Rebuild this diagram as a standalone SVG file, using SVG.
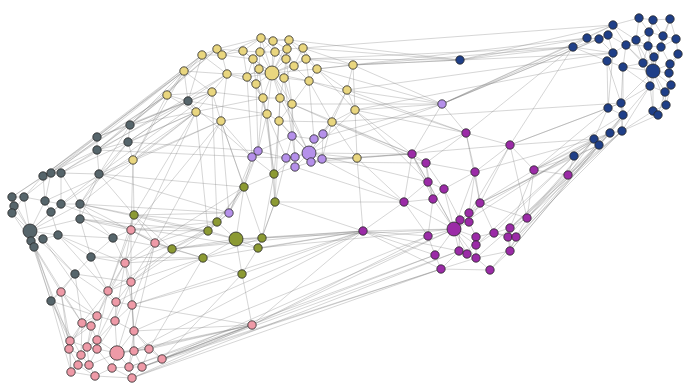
<svg xmlns="http://www.w3.org/2000/svg" width="687" height="386" viewBox="0 0 687 386">
<style>
#edges path{stroke:#7c7c7c;stroke-opacity:.45;stroke-width:.7;fill:none}
circle{stroke:#262626;stroke-width:.8}
.G circle{fill:#56656b}
.Y circle{fill:#e9d67f}
.L circle{fill:#b590ea}
.O circle{fill:#8c9a33}
.P circle{fill:#ee9aa7}
.U circle{fill:#9b2ba7}
.B circle{fill:#1f3f88}
</style>
<rect width="687" height="386" fill="#ffffff"/>
<g id="edges">
<path d="M188 101L130 125"/><path d="M188 101L128 142"/><path d="M188 101L97 137"/><path d="M130 125L97 137"/><path d="M130 125L128 142"/><path d="M130 125L97 150"/><path d="M97 137L97 150"/><path d="M128 142L97 150"/><path d="M128 142L99 174"/><path d="M97 150L99 174"/><path d="M97 150L61 173"/><path d="M97 150L43 176"/><path d="M97 137L51 173"/><path d="M43 176L51 173"/><path d="M51 173L61 173"/><path d="M43 176L12 197"/><path d="M43 176L24 197"/><path d="M51 173L45 201"/><path d="M61 173L61 204"/><path d="M61 173L80 204"/><path d="M99 174L80 204"/><path d="M99 174L80 219"/><path d="M12 197L24 197"/><path d="M12 197L14 206"/><path d="M12 197L12 213"/><path d="M24 197L45 201"/><path d="M24 197L30 231"/><path d="M45 201L61 204"/><path d="M45 201L51 212"/><path d="M61 204L80 204"/><path d="M61 204L30 231"/><path d="M80 204L80 219"/><path d="M80 204L30 231"/><path d="M14 206L12 213"/><path d="M14 206L30 231"/><path d="M12 213L30 231"/><path d="M12 213L31 241"/><path d="M51 212L30 231"/><path d="M51 212L58 235"/><path d="M80 219L30 231"/><path d="M80 219L113 238"/><path d="M30 231L43 239"/><path d="M30 231L58 235"/><path d="M30 231L34 247"/><path d="M43 239L58 235"/><path d="M43 239L34 247"/><path d="M58 235L91 257"/><path d="M34 247L51 301"/><path d="M113 238L91 257"/><path d="M91 257L75 274"/><path d="M75 274L51 301"/><path d="M43 239L75 274"/><path d="M30 231L75 274"/><path d="M80 204L113 238"/><path d="M99 174L61 204"/><path d="M80 219L91 257"/><path d="M58 235L113 238"/><path d="M45 201L30 231"/><path d="M24 197L12 213"/><path d="M43 176L45 201"/><path d="M61 173L99 174"/><path d="M97 137L43 176"/><path d="M130 125L99 174"/><path d="M128 142L80 204"/><path d="M188 101L97 150"/><path d="M31 241L51 301"/><path d="M12 197L30 231"/>
<path d="M188 101L167 95"/><path d="M188 101L184 71"/><path d="M188 101L196 112"/><path d="M130 125L184 71"/><path d="M130 125L167 95"/><path d="M97 137L184 71"/><path d="M128 142L196 112"/><path d="M97 150L167 95"/><path d="M43 176L184 71"/><path d="M61 173L196 112"/><path d="M99 174L221 121"/><path d="M130 125L217 49"/><path d="M97 137L202 55"/><path d="M51 173L167 95"/><path d="M12 197L167 95"/><path d="M24 197L184 71"/><path d="M43 176L202 55"/><path d="M61 173L227 74"/><path d="M80 204L196 112"/><path d="M99 174L212 92"/><path d="M45 201L221 121"/><path d="M51 212L196 112"/><path d="M128 142L227 74"/><path d="M130 125L212 92"/><path d="M97 150L217 49"/><path d="M188 101L202 55"/><path d="M188 101L212 92"/><path d="M128 142L133 160"/>
<path d="M113 238L131 230"/><path d="M113 238L125 263"/><path d="M91 257L125 263"/><path d="M91 257L108 291"/><path d="M75 274L61 292"/><path d="M51 301L61 292"/><path d="M51 301L70 341"/><path d="M75 274L82 323"/><path d="M34 247L61 292"/><path d="M58 235L125 263"/><path d="M43 239L97 316"/><path d="M80 219L131 230"/><path d="M80 204L134 215"/><path d="M99 174L134 215"/><path d="M80 204L155 243"/><path d="M113 238L172 249"/><path d="M91 257L203 258"/><path d="M31 241L82 323"/><path d="M30 231L69 349"/><path d="M51 301L81 355"/><path d="M75 274L131 282"/><path d="M80 219L208 231"/><path d="M51 301L71 372"/><path d="M34 247L70 341"/><path d="M51 301L97 316"/><path d="M75 274L116 302"/><path d="M58 235L108 291"/><path d="M61 204L131 230"/>
<path d="M128 142L258 151"/><path d="M97 150L252 157"/><path d="M99 174L229 213"/><path d="M80 204L236 239"/><path d="M80 219L258 248"/><path d="M188 101L267 114"/><path d="M130 125L263 98"/><path d="M99 174L244 187"/><path d="M188 101L252 157"/>
<path d="M261 38L273 41"/><path d="M261 38L289 40"/><path d="M261 38L243 51"/><path d="M261 38L260 52"/><path d="M261 38L275 52"/><path d="M273 41L289 40"/><path d="M273 41L260 52"/><path d="M273 41L275 52"/><path d="M273 41L287 49"/><path d="M289 40L287 49"/><path d="M289 40L303 48"/><path d="M289 40L286 59"/><path d="M217 49L222 55"/><path d="M217 49L202 55"/><path d="M217 49L243 51"/><path d="M217 49L184 71"/><path d="M222 55L202 55"/><path d="M222 55L243 51"/><path d="M222 55L227 74"/><path d="M222 55L253 59"/><path d="M202 55L184 71"/><path d="M202 55L227 74"/><path d="M243 51L260 52"/><path d="M243 51L253 59"/><path d="M243 51L247 77"/><path d="M260 52L275 52"/><path d="M260 52L253 59"/><path d="M260 52L259 69"/><path d="M260 52L272 73"/><path d="M275 52L287 49"/><path d="M275 52L286 59"/><path d="M275 52L272 73"/><path d="M287 49L303 48"/><path d="M287 49L286 59"/><path d="M287 49L294 66"/><path d="M303 48L306 59"/><path d="M303 48L294 66"/><path d="M303 48L317 69"/><path d="M253 59L259 69"/><path d="M253 59L247 77"/><path d="M253 59L272 73"/><path d="M286 59L272 73"/><path d="M286 59L294 66"/><path d="M286 59L284 78"/><path d="M306 59L294 66"/><path d="M306 59L317 69"/><path d="M306 59L309 81"/><path d="M184 71L227 74"/><path d="M184 71L167 95"/><path d="M184 71L212 92"/><path d="M227 74L247 77"/><path d="M227 74L212 92"/><path d="M227 74L256 84"/><path d="M259 69L272 73"/><path d="M259 69L247 77"/><path d="M259 69L256 84"/><path d="M272 73L294 66"/><path d="M272 73L284 78"/><path d="M272 73L256 84"/><path d="M272 73L263 98"/><path d="M272 73L280 98"/><path d="M272 73L292 104"/><path d="M272 73L267 114"/><path d="M272 73L247 77"/><path d="M272 73L306 59"/><path d="M272 73L317 69"/><path d="M272 73L309 81"/><path d="M272 73L243 51"/><path d="M272 73L227 74"/><path d="M294 66L284 78"/><path d="M294 66L309 81"/><path d="M317 69L309 81"/><path d="M317 69L353 65"/><path d="M317 69L347 90"/><path d="M247 77L256 84"/><path d="M284 78L309 81"/><path d="M284 78L280 98"/><path d="M256 84L263 98"/><path d="M256 84L267 114"/><path d="M309 81L347 90"/><path d="M309 81L292 104"/><path d="M353 65L347 90"/><path d="M353 65L355 110"/><path d="M347 90L332 122"/><path d="M347 90L355 110"/><path d="M167 95L212 92"/><path d="M167 95L196 112"/><path d="M212 92L196 112"/><path d="M212 92L221 121"/><path d="M212 92L263 98"/><path d="M263 98L280 98"/><path d="M263 98L267 114"/><path d="M280 98L292 104"/><path d="M280 98L279 121"/><path d="M292 104L279 121"/><path d="M292 104L332 122"/><path d="M221 121L267 114"/><path d="M267 114L279 121"/><path d="M279 121L332 122"/><path d="M332 122L355 110"/><path d="M355 110L357 158"/><path d="M332 122L357 158"/><path d="M196 112L221 121"/><path d="M133 160L196 112"/><path d="M133 160L167 95"/><path d="M133 160L184 71"/><path d="M261 38L217 49"/><path d="M289 40L306 59"/><path d="M303 48L353 65"/><path d="M273 41L272 73"/><path d="M289 40L272 73"/><path d="M261 38L272 73"/><path d="M287 49L272 73"/><path d="M253 59L256 84"/><path d="M284 78L292 104"/><path d="M227 74L221 121"/><path d="M247 77L263 98"/><path d="M202 55L167 95"/><path d="M222 55L261 38"/><path d="M306 59L353 65"/><path d="M309 81L332 122"/><path d="M317 69L355 110"/><path d="M286 59L292 104"/><path d="M259 69L263 98"/>
<path d="M267 114L258 151"/><path d="M279 121L292 136"/><path d="M292 104L292 136"/><path d="M332 122L323 134"/><path d="M332 122L314 139"/><path d="M279 121L309 153"/><path d="M280 98L309 153"/><path d="M263 98L258 151"/><path d="M267 114L286 158"/><path d="M292 104L295 157"/><path d="M355 110L309 153"/><path d="M357 158L322 159"/><path d="M347 90L323 134"/><path d="M221 121L252 157"/><path d="M256 84L258 151"/><path d="M309 81L314 139"/><path d="M332 122L322 159"/><path d="M357 158L309 153"/><path d="M357 158L311 162"/><path d="M272 73L309 153"/><path d="M284 78L292 136"/><path d="M247 77L252 157"/>
<path d="M133 160L134 215"/><path d="M221 121L244 187"/><path d="M263 98L274 174"/><path d="M267 114L274 174"/><path d="M279 121L274 174"/><path d="M196 112L208 231"/><path d="M212 92L217 222"/><path d="M221 121L262 238"/><path d="M280 98L275 202"/><path d="M267 114L275 202"/><path d="M196 112L134 215"/>
<path d="M353 65L573 47"/><path d="M353 65L460 60"/><path d="M303 48L460 60"/><path d="M306 59L460 60"/><path d="M317 69L442 104"/><path d="M347 90L442 104"/><path d="M355 110L412 154"/><path d="M355 110L466 133"/><path d="M357 158L412 154"/><path d="M357 158L404 202"/><path d="M332 122L426 163"/><path d="M347 90L466 133"/><path d="M306 59L573 47"/><path d="M317 69L587 38"/><path d="M353 65L613 53"/><path d="M289 40L460 60"/><path d="M355 110L428 182"/><path d="M357 158L363 231"/><path d="M355 110L607 61"/><path d="M347 90L613 53"/><path d="M332 122L621 103"/><path d="M303 48L613 25"/><path d="M357 158L510 145"/><path d="M332 122L412 154"/><path d="M292 104L412 154"/><path d="M309 81L466 133"/>
<path d="M292 136L314 139"/><path d="M292 136L309 153"/><path d="M292 136L286 158"/><path d="M314 139L323 134"/><path d="M314 139L309 153"/><path d="M323 134L309 153"/><path d="M323 134L322 159"/><path d="M258 151L252 157"/><path d="M258 151L286 158"/><path d="M252 157L286 158"/><path d="M309 153L286 158"/><path d="M309 153L295 157"/><path d="M309 153L322 159"/><path d="M309 153L311 162"/><path d="M309 153L295 167"/><path d="M286 158L295 157"/><path d="M295 157L295 167"/><path d="M322 159L311 162"/><path d="M311 162L295 167"/><path d="M258 151L229 213"/><path d="M252 157L229 213"/><path d="M286 158L295 167"/><path d="M292 136L295 157"/><path d="M258 151L292 136"/>
<path d="M229 213L208 231"/><path d="M229 213L217 222"/><path d="M229 213L244 187"/><path d="M229 213L80 204"/><path d="M229 213L134 215"/><path d="M229 213L221 121"/><path d="M442 104L573 47"/><path d="M442 104L613 25"/><path d="M442 104L587 38"/><path d="M442 104L608 35"/><path d="M442 104L353 65"/><path d="M442 104L355 110"/><path d="M442 104L412 154"/><path d="M442 104L292 104"/><path d="M442 104L314 139"/><path d="M442 104L309 153"/><path d="M442 104L466 133"/><path d="M442 104L599 39"/><path d="M309 153L412 154"/><path d="M322 159L412 154"/><path d="M311 162L426 163"/><path d="M295 167L274 174"/><path d="M258 151L244 187"/><path d="M252 157L244 187"/><path d="M295 167L404 202"/><path d="M322 159L404 202"/><path d="M286 158L275 202"/><path d="M309 153L428 182"/><path d="M295 157L274 174"/><path d="M252 157L274 174"/>
<path d="M134 215L172 249"/><path d="M134 215L208 231"/><path d="M172 249L208 231"/><path d="M172 249L203 258"/><path d="M208 231L236 239"/><path d="M208 231L217 222"/><path d="M236 239L217 222"/><path d="M236 239L258 248"/><path d="M236 239L262 238"/><path d="M236 239L203 258"/><path d="M236 239L242 274"/><path d="M258 248L262 238"/><path d="M258 248L242 274"/><path d="M203 258L242 274"/><path d="M274 174L244 187"/><path d="M274 174L275 202"/><path d="M244 187L217 222"/><path d="M244 187L236 239"/><path d="M275 202L262 238"/><path d="M275 202L258 248"/><path d="M217 222L172 249"/><path d="M274 174L262 238"/><path d="M244 187L208 231"/><path d="M172 249L236 239"/><path d="M134 215L217 222"/><path d="M172 249L262 238"/><path d="M203 258L262 238"/>
<path d="M172 249L155 243"/><path d="M203 258L155 243"/><path d="M172 249L131 230"/><path d="M208 231L131 230"/><path d="M203 258L125 263"/><path d="M242 274L252 325"/><path d="M258 248L363 231"/><path d="M262 238L363 231"/><path d="M275 202L363 231"/><path d="M236 239L363 231"/><path d="M262 238L454 229"/><path d="M258 248L454 229"/><path d="M203 258L131 282"/><path d="M172 249L131 282"/><path d="M242 274L132 305"/><path d="M134 215L131 230"/><path d="M134 215L155 243"/><path d="M217 222L155 243"/><path d="M275 202L404 202"/><path d="M203 258L149 349"/><path d="M242 274L162 359"/><path d="M172 249L363 231"/><path d="M203 258L363 231"/><path d="M242 274L363 231"/><path d="M208 231L125 263"/><path d="M217 222L131 230"/><path d="M172 249L108 291"/><path d="M203 258L116 302"/>
<path d="M131 230L155 243"/><path d="M131 230L125 263"/><path d="M155 243L125 263"/><path d="M125 263L131 282"/><path d="M125 263L108 291"/><path d="M131 282L108 291"/><path d="M131 282L116 302"/><path d="M131 282L132 305"/><path d="M61 292L97 316"/><path d="M61 292L82 323"/><path d="M61 292L70 341"/><path d="M108 291L116 302"/><path d="M108 291L97 316"/><path d="M116 302L132 305"/><path d="M116 302L115 321"/><path d="M132 305L115 321"/><path d="M132 305L134 331"/><path d="M97 316L82 323"/><path d="M97 316L91 326"/><path d="M97 316L115 321"/><path d="M82 323L91 326"/><path d="M82 323L70 341"/><path d="M91 326L97 340"/><path d="M91 326L87 347"/><path d="M115 321L134 331"/><path d="M115 321L117 353"/><path d="M115 321L97 340"/><path d="M134 331L117 353"/><path d="M134 331L134 351"/><path d="M70 341L69 349"/><path d="M70 341L87 347"/><path d="M97 340L87 347"/><path d="M97 340L97 349"/><path d="M97 340L117 353"/><path d="M69 349L81 355"/><path d="M69 349L78 365"/><path d="M87 347L97 349"/><path d="M87 347L81 355"/><path d="M97 349L117 353"/><path d="M97 349L89 365"/><path d="M81 355L78 365"/><path d="M81 355L89 365"/><path d="M117 353L134 351"/><path d="M117 353L112 368"/><path d="M117 353L129 367"/><path d="M117 353L149 349"/><path d="M117 353L89 365"/><path d="M134 351L149 349"/><path d="M134 351L129 367"/><path d="M149 349L162 359"/><path d="M149 349L142 367"/><path d="M162 359L142 367"/><path d="M78 365L71 372"/><path d="M78 365L89 365"/><path d="M89 365L95 376"/><path d="M112 368L129 367"/><path d="M112 368L95 376"/><path d="M129 367L142 367"/><path d="M129 367L132 378"/><path d="M142 367L132 378"/><path d="M71 372L95 376"/><path d="M95 376L132 378"/><path d="M112 368L132 378"/><path d="M125 263L97 316"/><path d="M131 282L115 321"/><path d="M108 291L82 323"/><path d="M132 305L117 353"/><path d="M134 331L149 349"/><path d="M116 302L97 340"/><path d="M131 230L108 291"/><path d="M155 243L131 282"/><path d="M131 282L134 331"/><path d="M125 263L132 305"/><path d="M97 316L70 341"/><path d="M91 326L70 341"/><path d="M61 292L69 349"/><path d="M82 323L69 349"/><path d="M70 341L71 372"/><path d="M81 355L71 372"/><path d="M69 349L71 372"/><path d="M97 349L112 368"/><path d="M87 347L89 365"/><path d="M134 331L162 359"/><path d="M134 351L142 367"/><path d="M97 340L81 355"/><path d="M155 243L132 305"/><path d="M155 243L134 331"/><path d="M131 230L131 282"/><path d="M125 263L115 321"/><path d="M108 291L97 340"/><path d="M132 305L134 351"/><path d="M115 321L97 349"/><path d="M97 316L87 347"/><path d="M82 323L81 355"/><path d="M134 331L129 367"/><path d="M78 365L95 376"/>
<path d="M252 325L162 359"/><path d="M252 325L149 349"/><path d="M252 325L142 367"/><path d="M252 325L134 351"/><path d="M252 325L134 331"/><path d="M252 325L132 305"/><path d="M252 325L117 353"/><path d="M252 325L454 229"/><path d="M252 325L363 231"/><path d="M252 325L428 236"/><path d="M252 325L129 367"/><path d="M252 325L132 378"/><path d="M162 359L435 255"/><path d="M142 367L441 269"/><path d="M132 378L459 251"/><path d="M149 349L428 236"/><path d="M134 331L363 231"/><path d="M132 305L363 231"/><path d="M162 359L454 229"/><path d="M129 367L435 255"/><path d="M132 378L441 269"/><path d="M142 367L459 251"/><path d="M134 351L363 231"/><path d="M162 359L441 269"/>
<path d="M155 243L221 121"/><path d="M125 263L196 112"/><path d="M131 230L133 160"/><path d="M131 282L208 231"/><path d="M108 291L134 215"/><path d="M155 243L244 187"/><path d="M131 230L221 121"/>
<path d="M466 133L510 145"/><path d="M466 133L426 163"/><path d="M466 133L475 172"/><path d="M466 133L412 154"/><path d="M510 145L475 172"/><path d="M510 145L534 170"/><path d="M510 145L480 203"/><path d="M412 154L426 163"/><path d="M412 154L428 182"/><path d="M412 154L404 202"/><path d="M426 163L428 182"/><path d="M426 163L444 189"/><path d="M426 163L433 199"/><path d="M426 163L475 172"/><path d="M475 172L480 203"/><path d="M475 172L469 213"/><path d="M475 172L444 189"/><path d="M534 170L568 175"/><path d="M534 170L527 218"/><path d="M534 170L480 203"/><path d="M428 182L444 189"/><path d="M428 182L433 199"/><path d="M428 182L454 229"/><path d="M444 189L433 199"/><path d="M444 189L454 229"/><path d="M444 189L460 220"/><path d="M404 202L428 236"/><path d="M404 202L454 229"/><path d="M404 202L363 231"/><path d="M433 199L454 229"/><path d="M433 199L428 236"/><path d="M480 203L469 213"/><path d="M480 203L469 222"/><path d="M480 203L527 218"/><path d="M469 213L460 220"/><path d="M469 213L469 222"/><path d="M460 220L454 229"/><path d="M469 222L454 229"/><path d="M469 222L476 237"/><path d="M454 229L428 236"/><path d="M454 229L459 251"/><path d="M454 229L467 254"/><path d="M454 229L435 255"/><path d="M454 229L476 237"/><path d="M454 229L476 245"/><path d="M454 229L476 258"/><path d="M527 218L510 228"/><path d="M527 218L516 237"/><path d="M510 228L494 233"/><path d="M510 228L508 237"/><path d="M494 233L476 237"/><path d="M494 233L476 245"/><path d="M476 237L476 245"/><path d="M508 237L516 237"/><path d="M508 237L510 251"/><path d="M516 237L510 251"/><path d="M428 236L435 255"/><path d="M428 236L363 231"/><path d="M476 245L467 254"/><path d="M476 245L476 258"/><path d="M510 251L476 258"/><path d="M510 251L490 270"/><path d="M459 251L467 254"/><path d="M467 254L476 258"/><path d="M476 258L490 270"/><path d="M435 255L441 269"/><path d="M441 269L476 258"/><path d="M441 269L459 251"/><path d="M494 233L508 237"/><path d="M363 231L454 229"/><path d="M363 231L435 255"/><path d="M412 154L433 199"/><path d="M510 145L527 218"/><path d="M568 175L527 218"/><path d="M568 175L510 228"/><path d="M534 170L510 228"/><path d="M469 213L454 229"/><path d="M476 237L467 254"/><path d="M510 228L510 251"/><path d="M480 203L494 233"/><path d="M404 202L433 199"/><path d="M428 182L404 202"/><path d="M466 133L480 203"/><path d="M475 172L454 229"/><path d="M412 154L454 229"/><path d="M441 269L490 270"/><path d="M363 231L441 269"/><path d="M363 231L459 251"/><path d="M510 145L469 213"/><path d="M460 220L459 251"/><path d="M516 237L494 233"/>
<path d="M568 175L574 156"/><path d="M568 175L594 139"/><path d="M568 175L599 145"/><path d="M534 170L574 156"/><path d="M534 170L594 139"/><path d="M534 170L610 133"/><path d="M510 145L573 47"/><path d="M510 145L608 108"/><path d="M510 145L621 103"/><path d="M466 133L573 47"/><path d="M527 218L599 145"/><path d="M527 218L594 139"/><path d="M510 228L610 133"/><path d="M516 237L622 131"/><path d="M510 251L599 145"/><path d="M480 203L574 156"/><path d="M534 170L608 108"/><path d="M475 172L594 139"/><path d="M508 237L594 139"/><path d="M568 175L622 131"/><path d="M510 145L594 139"/><path d="M534 170L623 115"/><path d="M516 237L623 115"/><path d="M527 218L622 131"/><path d="M490 270L599 145"/><path d="M510 251L610 133"/><path d="M494 233L574 156"/><path d="M480 203L599 145"/><path d="M476 245L574 156"/><path d="M454 229L594 139"/><path d="M469 213L610 133"/><path d="M476 258L622 131"/>
<path d="M639 18L653 20"/><path d="M639 18L613 25"/><path d="M639 18L649 32"/><path d="M639 18L636 40"/><path d="M653 20L670 19"/><path d="M653 20L649 32"/><path d="M653 20L663 36"/><path d="M670 19L663 36"/><path d="M670 19L676 39"/><path d="M613 25L608 35"/><path d="M613 25L626 45"/><path d="M613 25L587 38"/><path d="M613 25L636 40"/><path d="M587 38L599 39"/><path d="M587 38L573 47"/><path d="M599 39L608 35"/><path d="M599 39L573 47"/><path d="M599 39L613 53"/><path d="M608 35L626 45"/><path d="M608 35L613 53"/><path d="M649 32L636 40"/><path d="M649 32L648 46"/><path d="M649 32L663 36"/><path d="M663 36L661 47"/><path d="M663 36L676 39"/><path d="M676 39L678 54"/><path d="M676 39L661 47"/><path d="M636 40L626 45"/><path d="M636 40L648 46"/><path d="M636 40L643 63"/><path d="M573 47L613 53"/><path d="M573 47L607 61"/><path d="M626 45L613 53"/><path d="M626 45L623 67"/><path d="M648 46L661 47"/><path d="M648 46L654 57"/><path d="M648 46L653 71"/><path d="M661 47L654 57"/><path d="M661 47L670 64"/><path d="M678 54L670 64"/><path d="M678 54L669 73"/><path d="M654 57L653 71"/><path d="M654 57L643 63"/><path d="M607 61L623 67"/><path d="M607 61L608 108"/><path d="M643 63L653 71"/><path d="M643 63L623 67"/><path d="M670 64L669 73"/><path d="M670 64L653 71"/><path d="M623 67L653 71"/><path d="M653 71L669 73"/><path d="M653 71L650 86"/><path d="M653 71L671 85"/><path d="M653 71L665 92"/><path d="M669 73L671 85"/><path d="M650 86L665 92"/><path d="M650 86L621 103"/><path d="M650 86L653 111"/><path d="M671 85L665 92"/><path d="M665 92L666 105"/><path d="M621 103L608 108"/><path d="M621 103L623 115"/><path d="M608 108L623 115"/><path d="M623 115L622 131"/><path d="M623 115L610 133"/><path d="M666 105L658 115"/><path d="M666 105L653 111"/><path d="M653 111L658 115"/><path d="M653 111L622 131"/><path d="M658 115L622 131"/><path d="M622 131L610 133"/><path d="M610 133L594 139"/><path d="M594 139L599 145"/><path d="M599 145L574 156"/><path d="M610 133L599 145"/><path d="M594 139L574 156"/><path d="M623 67L621 103"/><path d="M607 61L621 103"/><path d="M613 53L608 108"/><path d="M653 71L666 105"/><path d="M653 71L653 111"/><path d="M653 71L636 40"/><path d="M653 71L626 45"/><path d="M648 46L643 63"/><path d="M573 47L460 60"/><path d="M587 38L460 60"/><path d="M621 103L622 131"/><path d="M608 108L594 139"/><path d="M623 115L599 145"/><path d="M650 86L622 131"/><path d="M650 86L610 133"/><path d="M643 63L650 86"/><path d="M623 67L623 115"/><path d="M626 45L648 46"/><path d="M653 20L648 46"/><path d="M670 19L661 47"/><path d="M653 71L649 32"/><path d="M653 71L661 47"/><path d="M653 71L663 36"/><path d="M665 92L658 115"/><path d="M671 85L666 105"/><path d="M613 25L460 60"/><path d="M623 67L650 86"/><path d="M653 71L621 103"/><path d="M626 45L643 63"/>
</g>
<g id="nodes">
<g id="g1" class="G"><circle cx="188" cy="101" r="4.2"/></g>
<g id="g2" class="G"><circle cx="130" cy="125" r="4.2"/></g>
<g id="g3" class="G"><circle cx="97" cy="137" r="4.2"/></g>
<g id="g4" class="G"><circle cx="128" cy="142" r="4.2"/></g>
<g id="g5" class="G"><circle cx="97" cy="150" r="4.2"/></g>
<g id="g6" class="G"><circle cx="43" cy="176" r="4.2"/></g>
<g id="g7" class="G"><circle cx="51" cy="173" r="4.2"/></g>
<g id="g8" class="G"><circle cx="61" cy="173" r="4.2"/></g>
<g id="g9" class="G"><circle cx="99" cy="174" r="4.2"/></g>
<g id="g10" class="G"><circle cx="12" cy="197" r="4.2"/></g>
<g id="g11" class="G"><circle cx="24" cy="197" r="4.2"/></g>
<g id="g12" class="G"><circle cx="45" cy="201" r="4.2"/></g>
<g id="g13" class="G"><circle cx="61" cy="204" r="4.2"/></g>
<g id="g14" class="G"><circle cx="80" cy="204" r="4.2"/></g>
<g id="g15" class="G"><circle cx="14" cy="206" r="4.2"/></g>
<g id="g16" class="G"><circle cx="12" cy="213" r="4.2"/></g>
<g id="g17" class="G"><circle cx="51" cy="212" r="4.2"/></g>
<g id="g18" class="G"><circle cx="80" cy="219" r="4.2"/></g>
<g id="g19" class="G"><circle cx="30" cy="231" r="7"/></g>
<g id="g20" class="G"><circle cx="43" cy="239" r="4.2"/></g>
<g id="g21" class="G"><circle cx="58" cy="235" r="4.2"/></g>
<g id="g22" class="G"><circle cx="31" cy="241" r="4.2"/></g>
<g id="g23" class="G"><circle cx="34" cy="247" r="4.2"/></g>
<g id="g24" class="G"><circle cx="113" cy="238" r="4.2"/></g>
<g id="g25" class="G"><circle cx="91" cy="257" r="4.2"/></g>
<g id="g26" class="G"><circle cx="75" cy="274" r="4.2"/></g>
<g id="g27" class="G"><circle cx="51" cy="301" r="4.2"/></g>
<g id="y1" class="Y"><circle cx="261" cy="38" r="4.2"/></g>
<g id="y2" class="Y"><circle cx="273" cy="41" r="4.2"/></g>
<g id="y3" class="Y"><circle cx="289" cy="40" r="4.2"/></g>
<g id="y4" class="Y"><circle cx="217" cy="49" r="4.2"/></g>
<g id="y5" class="Y"><circle cx="222" cy="55" r="4.2"/></g>
<g id="y6" class="Y"><circle cx="202" cy="55" r="4.2"/></g>
<g id="y7" class="Y"><circle cx="243" cy="51" r="4.2"/></g>
<g id="y8" class="Y"><circle cx="260" cy="52" r="4.2"/></g>
<g id="y9" class="Y"><circle cx="275" cy="52" r="4.2"/></g>
<g id="y10" class="Y"><circle cx="287" cy="49" r="4.2"/></g>
<g id="y11" class="Y"><circle cx="303" cy="48" r="4.2"/></g>
<g id="y12" class="Y"><circle cx="253" cy="59" r="4.2"/></g>
<g id="y13" class="Y"><circle cx="286" cy="59" r="4.2"/></g>
<g id="y14" class="Y"><circle cx="306" cy="59" r="4.2"/></g>
<g id="y15" class="Y"><circle cx="184" cy="71" r="4.2"/></g>
<g id="y16" class="Y"><circle cx="227" cy="74" r="4.2"/></g>
<g id="y17" class="Y"><circle cx="259" cy="69" r="4.2"/></g>
<g id="y18" class="Y"><circle cx="272" cy="73" r="7"/></g>
<g id="y19" class="Y"><circle cx="294" cy="66" r="4.2"/></g>
<g id="y20" class="Y"><circle cx="317" cy="69" r="4.2"/></g>
<g id="y21" class="Y"><circle cx="247" cy="77" r="4.2"/></g>
<g id="y22" class="Y"><circle cx="284" cy="78" r="4.2"/></g>
<g id="y23" class="Y"><circle cx="256" cy="84" r="4.2"/></g>
<g id="y24" class="Y"><circle cx="309" cy="81" r="4.2"/></g>
<g id="y25" class="Y"><circle cx="353" cy="65" r="4.2"/></g>
<g id="y26" class="Y"><circle cx="347" cy="90" r="4.2"/></g>
<g id="y27" class="Y"><circle cx="167" cy="95" r="4.2"/></g>
<g id="y28" class="Y"><circle cx="212" cy="92" r="4.2"/></g>
<g id="y29" class="Y"><circle cx="263" cy="98" r="4.2"/></g>
<g id="y30" class="Y"><circle cx="280" cy="98" r="4.2"/></g>
<g id="y31" class="Y"><circle cx="292" cy="104" r="4.2"/></g>
<g id="y32" class="Y"><circle cx="196" cy="112" r="4.2"/></g>
<g id="y33" class="Y"><circle cx="221" cy="121" r="4.2"/></g>
<g id="y34" class="Y"><circle cx="267" cy="114" r="4.2"/></g>
<g id="y35" class="Y"><circle cx="279" cy="121" r="4.2"/></g>
<g id="y36" class="Y"><circle cx="332" cy="122" r="4.2"/></g>
<g id="y37" class="Y"><circle cx="355" cy="110" r="4.2"/></g>
<g id="y38" class="Y"><circle cx="357" cy="158" r="4.2"/></g>
<g id="y39" class="Y"><circle cx="133" cy="160" r="4.2"/></g>
<g id="l1" class="L"><circle cx="292" cy="136" r="4.2"/></g>
<g id="l2" class="L"><circle cx="314" cy="139" r="4.2"/></g>
<g id="l3" class="L"><circle cx="323" cy="134" r="4.2"/></g>
<g id="l4" class="L"><circle cx="258" cy="151" r="4.2"/></g>
<g id="l5" class="L"><circle cx="252" cy="157" r="4.2"/></g>
<g id="l6" class="L"><circle cx="309" cy="153" r="7"/></g>
<g id="l7" class="L"><circle cx="286" cy="158" r="4.2"/></g>
<g id="l8" class="L"><circle cx="295" cy="157" r="4.2"/></g>
<g id="l9" class="L"><circle cx="322" cy="159" r="4.2"/></g>
<g id="l10" class="L"><circle cx="311" cy="162" r="4.2"/></g>
<g id="l11" class="L"><circle cx="295" cy="167" r="4.2"/></g>
<g id="l12" class="L"><circle cx="229" cy="213" r="4.2"/></g>
<g id="l13" class="L"><circle cx="442" cy="104" r="4.2"/></g>
<g id="o1" class="O"><circle cx="134" cy="215" r="4.2"/></g>
<g id="o2" class="O"><circle cx="172" cy="249" r="4.2"/></g>
<g id="o3" class="O"><circle cx="208" cy="231" r="4.2"/></g>
<g id="o4" class="O"><circle cx="236" cy="239" r="7"/></g>
<g id="o5" class="O"><circle cx="258" cy="248" r="4.2"/></g>
<g id="o6" class="O"><circle cx="203" cy="258" r="4.2"/></g>
<g id="o7" class="O"><circle cx="242" cy="274" r="4.2"/></g>
<g id="o8" class="O"><circle cx="274" cy="174" r="4.2"/></g>
<g id="o9" class="O"><circle cx="244" cy="187" r="4.2"/></g>
<g id="o10" class="O"><circle cx="275" cy="202" r="4.2"/></g>
<g id="o11" class="O"><circle cx="217" cy="222" r="4.2"/></g>
<g id="o12" class="O"><circle cx="262" cy="238" r="4.2"/></g>
<g id="p1" class="P"><circle cx="131" cy="230" r="4.2"/></g>
<g id="p2" class="P"><circle cx="155" cy="243" r="4.2"/></g>
<g id="p3" class="P"><circle cx="125" cy="263" r="4.2"/></g>
<g id="p4" class="P"><circle cx="131" cy="282" r="4.2"/></g>
<g id="p5" class="P"><circle cx="61" cy="292" r="4.2"/></g>
<g id="p6" class="P"><circle cx="108" cy="291" r="4.2"/></g>
<g id="p7" class="P"><circle cx="116" cy="302" r="4.2"/></g>
<g id="p8" class="P"><circle cx="132" cy="305" r="4.2"/></g>
<g id="p9" class="P"><circle cx="97" cy="316" r="4.2"/></g>
<g id="p10" class="P"><circle cx="82" cy="323" r="4.2"/></g>
<g id="p11" class="P"><circle cx="91" cy="326" r="4.2"/></g>
<g id="p12" class="P"><circle cx="115" cy="321" r="4.2"/></g>
<g id="p13" class="P"><circle cx="134" cy="331" r="4.2"/></g>
<g id="p14" class="P"><circle cx="70" cy="341" r="4.2"/></g>
<g id="p15" class="P"><circle cx="97" cy="340" r="4.2"/></g>
<g id="p16" class="P"><circle cx="69" cy="349" r="4.2"/></g>
<g id="p17" class="P"><circle cx="87" cy="347" r="4.2"/></g>
<g id="p18" class="P"><circle cx="97" cy="349" r="4.2"/></g>
<g id="p19" class="P"><circle cx="81" cy="355" r="4.2"/></g>
<g id="p20" class="P"><circle cx="117" cy="353" r="7.2"/></g>
<g id="p21" class="P"><circle cx="134" cy="351" r="4.2"/></g>
<g id="p22" class="P"><circle cx="149" cy="349" r="4.2"/></g>
<g id="p23" class="P"><circle cx="162" cy="359" r="4.2"/></g>
<g id="p24" class="P"><circle cx="78" cy="365" r="4.2"/></g>
<g id="p25" class="P"><circle cx="89" cy="365" r="4.2"/></g>
<g id="p26" class="P"><circle cx="112" cy="368" r="4.2"/></g>
<g id="p27" class="P"><circle cx="129" cy="367" r="4.2"/></g>
<g id="p28" class="P"><circle cx="142" cy="367" r="4.2"/></g>
<g id="p29" class="P"><circle cx="71" cy="372" r="4.2"/></g>
<g id="p30" class="P"><circle cx="95" cy="376" r="4.2"/></g>
<g id="p31" class="P"><circle cx="132" cy="378" r="4.2"/></g>
<g id="p32" class="P"><circle cx="252" cy="325" r="4.2"/></g>
<g id="u1" class="U"><circle cx="466" cy="133" r="4.2"/></g>
<g id="u2" class="U"><circle cx="510" cy="145" r="4.2"/></g>
<g id="u3" class="U"><circle cx="412" cy="154" r="4.2"/></g>
<g id="u4" class="U"><circle cx="426" cy="163" r="4.2"/></g>
<g id="u5" class="U"><circle cx="475" cy="172" r="4.2"/></g>
<g id="u6" class="U"><circle cx="534" cy="170" r="4.2"/></g>
<g id="u7" class="U"><circle cx="568" cy="175" r="4.2"/></g>
<g id="u8" class="U"><circle cx="428" cy="182" r="4.2"/></g>
<g id="u9" class="U"><circle cx="444" cy="189" r="4.2"/></g>
<g id="u10" class="U"><circle cx="404" cy="202" r="4.2"/></g>
<g id="u11" class="U"><circle cx="433" cy="199" r="4.2"/></g>
<g id="u12" class="U"><circle cx="480" cy="203" r="4.2"/></g>
<g id="u13" class="U"><circle cx="469" cy="213" r="4.2"/></g>
<g id="u14" class="U"><circle cx="460" cy="220" r="4.2"/></g>
<g id="u15" class="U"><circle cx="469" cy="222" r="4.2"/></g>
<g id="u16" class="U"><circle cx="454" cy="229" r="7"/></g>
<g id="u17" class="U"><circle cx="527" cy="218" r="4.2"/></g>
<g id="u18" class="U"><circle cx="510" cy="228" r="4.2"/></g>
<g id="u19" class="U"><circle cx="494" cy="233" r="4.2"/></g>
<g id="u20" class="U"><circle cx="476" cy="237" r="4.2"/></g>
<g id="u21" class="U"><circle cx="508" cy="237" r="4.2"/></g>
<g id="u22" class="U"><circle cx="516" cy="237" r="4.2"/></g>
<g id="u23" class="U"><circle cx="428" cy="236" r="4.2"/></g>
<g id="u24" class="U"><circle cx="363" cy="231" r="4.2"/></g>
<g id="u25" class="U"><circle cx="476" cy="245" r="4.2"/></g>
<g id="u26" class="U"><circle cx="510" cy="251" r="4.2"/></g>
<g id="u27" class="U"><circle cx="459" cy="251" r="4.2"/></g>
<g id="u28" class="U"><circle cx="467" cy="254" r="4.2"/></g>
<g id="u29" class="U"><circle cx="476" cy="258" r="4.2"/></g>
<g id="u30" class="U"><circle cx="435" cy="255" r="4.2"/></g>
<g id="u31" class="U"><circle cx="441" cy="269" r="4.2"/></g>
<g id="u32" class="U"><circle cx="490" cy="270" r="4.2"/></g>
<g id="b1" class="B"><circle cx="639" cy="18" r="4.2"/></g>
<g id="b2" class="B"><circle cx="653" cy="20" r="4.2"/></g>
<g id="b3" class="B"><circle cx="670" cy="19" r="4.2"/></g>
<g id="b4" class="B"><circle cx="613" cy="25" r="4.2"/></g>
<g id="b5" class="B"><circle cx="587" cy="38" r="4.2"/></g>
<g id="b6" class="B"><circle cx="599" cy="39" r="4.2"/></g>
<g id="b7" class="B"><circle cx="608" cy="35" r="4.2"/></g>
<g id="b8" class="B"><circle cx="649" cy="32" r="4.2"/></g>
<g id="b9" class="B"><circle cx="663" cy="36" r="4.2"/></g>
<g id="b10" class="B"><circle cx="676" cy="39" r="4.2"/></g>
<g id="b11" class="B"><circle cx="636" cy="40" r="4.2"/></g>
<g id="b12" class="B"><circle cx="573" cy="47" r="4.2"/></g>
<g id="b13" class="B"><circle cx="626" cy="45" r="4.2"/></g>
<g id="b14" class="B"><circle cx="648" cy="46" r="4.2"/></g>
<g id="b15" class="B"><circle cx="661" cy="47" r="4.2"/></g>
<g id="b16" class="B"><circle cx="613" cy="53" r="4.2"/></g>
<g id="b17" class="B"><circle cx="678" cy="54" r="4.2"/></g>
<g id="b18" class="B"><circle cx="654" cy="57" r="4.2"/></g>
<g id="b19" class="B"><circle cx="607" cy="61" r="4.2"/></g>
<g id="b20" class="B"><circle cx="643" cy="63" r="4.2"/></g>
<g id="b21" class="B"><circle cx="670" cy="64" r="4.2"/></g>
<g id="b22" class="B"><circle cx="623" cy="67" r="4.2"/></g>
<g id="b23" class="B"><circle cx="653" cy="71" r="7"/></g>
<g id="b24" class="B"><circle cx="669" cy="73" r="4.2"/></g>
<g id="b25" class="B"><circle cx="650" cy="86" r="4.2"/></g>
<g id="b26" class="B"><circle cx="671" cy="85" r="4.2"/></g>
<g id="b27" class="B"><circle cx="665" cy="92" r="4.2"/></g>
<g id="b28" class="B"><circle cx="621" cy="103" r="4.2"/></g>
<g id="b29" class="B"><circle cx="608" cy="108" r="4.2"/></g>
<g id="b30" class="B"><circle cx="623" cy="115" r="4.2"/></g>
<g id="b31" class="B"><circle cx="666" cy="105" r="4.2"/></g>
<g id="b32" class="B"><circle cx="653" cy="111" r="4.2"/></g>
<g id="b33" class="B"><circle cx="658" cy="115" r="4.2"/></g>
<g id="b34" class="B"><circle cx="622" cy="131" r="4.2"/></g>
<g id="b35" class="B"><circle cx="610" cy="133" r="4.2"/></g>
<g id="b36" class="B"><circle cx="594" cy="139" r="4.2"/></g>
<g id="b37" class="B"><circle cx="599" cy="145" r="4.2"/></g>
<g id="b38" class="B"><circle cx="574" cy="156" r="4.2"/></g>
<g id="b39" class="B"><circle cx="460" cy="60" r="4.2"/></g>
</g>
</svg>
